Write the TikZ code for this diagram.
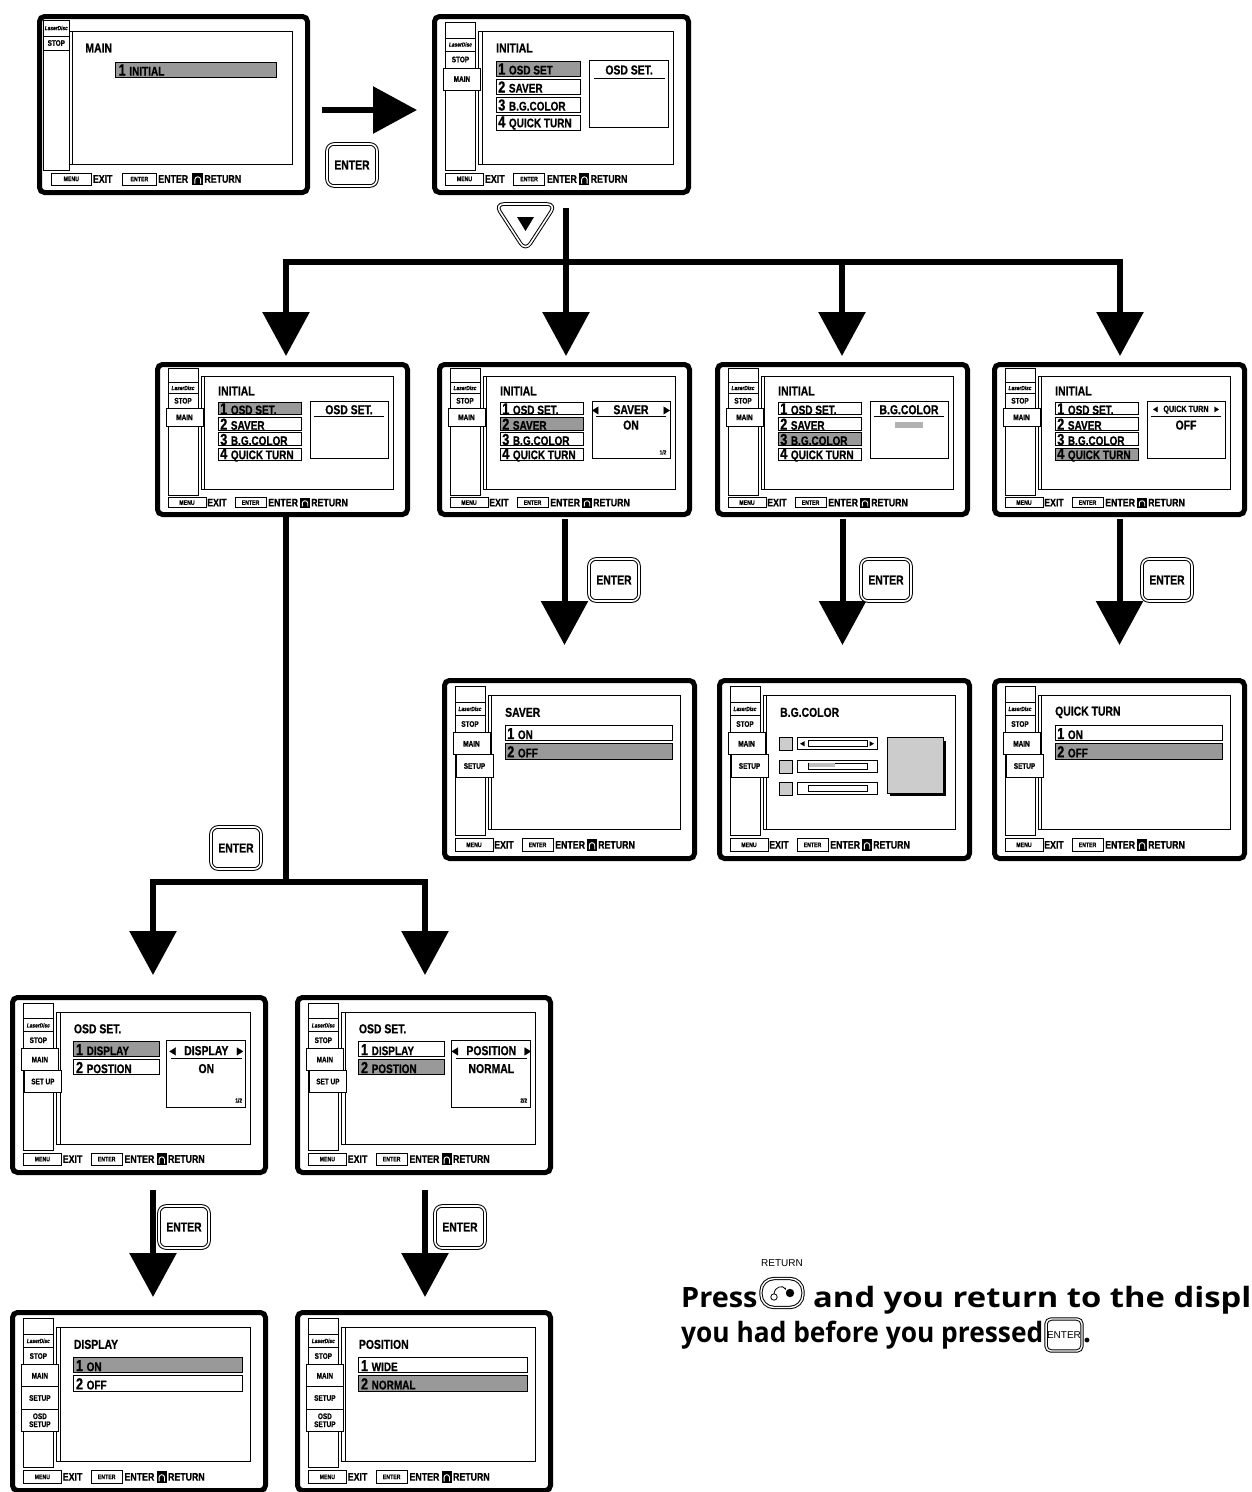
\documentclass[tikz,border=0pt]{standalone}
\usepackage{fontspec}
\setmainfont{Liberation Sans}
\newfontfamily\cond[FakeStretch=0.8,FakeBold=0.7,ItalicFont={Liberation Sans Bold Italic}]{Liberation Sans Bold}
\newfontfamily\bigfont{Open Sans}
\usetikzlibrary{arrows.meta,calc}
\newcommand\tf[1]{\cond\fontsize{#1}{#1}\selectfont}
\tikzset{
 frame/.style={draw,line width=5pt,rounded corners=5pt,fill=white,inner sep=0pt,anchor=north west},
 ln/.style={draw,line width=0.8pt},
 lab/.style={inner sep=0pt,anchor=west},
 flow/.style={line width=6pt},
 arr/.style={line width=6pt,-{Triangle[width=46pt,length=44pt]}},
 btn/.style={draw,line width=1pt,double=white,double distance=1.6pt,rounded corners=7pt,fill=white,minimum width=50pt,minimum height=42pt,font=\tf{13}},
 sbtn/.style={draw,line width=1pt,double=white,double distance=1.4pt,rounded corners=5pt,fill=white,minimum width=32pt,minimum height=32pt,inner sep=1pt,font=\fontsize{10}{10}\selectfont},
 hl/.style={fill=black!40},
 big/.style={anchor=base west,inner sep=0,font=\bigfont\bfseries\fontsize{28}{28}\selectfont}
}
\newcommand\scr[6]{%
 \node[frame,minimum width=#4pt,minimum height=#5pt] (#1) at (#2,#3) {};
 \begin{scope}[shift={(#2,#3)},xscale=#4/250,yscale=#5/176] #6 \end{scope}}
\newcommand\scpanel{\draw[ln,fill=white] (46,17) rectangle (238,150); \draw[ln] (49.5,17)--(49.5,150);}
\newcommand\sccol{\draw[ln,fill=white] (13,8) rectangle (43,156); \draw[ln] (13,24)--(43,24) (13,37)--(43,37) (13,54)--(43,54);
 \node[font=\tf{6}\itshape] at (28,30.5){LaserDisc}; \node[font=\tf{8}] at (28,45.5) {STOP};}
\newcommand\sctab[3]{\draw[ln,fill=white] ({11+#2},{54+22*(#1-1)}) rectangle ++(37,22);
 \node[font=\tf{8},align=center] at ({29.5+#2},{65+22*(#1-1)}) {#3};}
\newcommand\scbar{%
 \draw[ln] (13,159) rectangle (51,171); \node[font=\tf{6.5}] at (32,165){MENU};
 \node[lab,font=\tf{11}] at (52,165){EXIT};
 \draw[ln] (80,159) rectangle (111,171); \node[font=\tf{6.5}] at (95.5,165){ENTER};
 \node[lab,font=\tf{11}] at (113,165){ENTER};
 \fill (145,159) rectangle (155,171);
 \draw[white,line width=.9pt] (147.3,169.5)--(147.3,165.5) arc (180:360:2.7) --(152.7,169.5);
 \node[lab,font=\tf{11}] at (156,165){RETURN};}
\newcommand\itm[5]{\draw[ln,#5] (63,{47+18*(#1-1)}) rectangle ++(#2,15);
 \node[lab] at (65,{55+18*(#1-1)}) {\tf{16}#3\ \tf{12.5}#4};}
\newcommand\sctitle[1]{\node[lab,font=\tf{13}] at (63,34){#1};}
\newcommand\rbox[1]{\draw[ln,fill=white] (155,46) rectangle (233,113); \draw[ln] (159,64)--(229,64);
 \node[font=\tf{13}] at (194,56){#1};}
\newcommand\initscr[4]{\scpanel\sccol\sctab{1}{0}{MAIN}\scbar\sctitle{INITIAL}
 \itm{1}{83}{1}{#1}{#2}\itm{2}{83}{2}{SAVER}{#3}\itm{3}{83}{3}{B.G.COLOR}{#4}}
\begin{document}
\begin{tikzpicture}[x=1pt,y=-1pt]
\useasboundingbox (0,0) rectangle (1251,1492);
\clip (0,0) rectangle (1251,1492);
% top row
\scr{s1}{37}{14}{268}{176}{%
 \draw[ln,fill=white] (30,17) rectangle (238,150); \draw[ln] (33,17)--(33,150);
 \draw[ln,fill=white] (6,6) rectangle (30,156); \draw[ln] (6,22)--(30,22) (6,36)--(30,36);
 \node[font=\tf{6}\itshape] at (18,14){LaserDisc}; \node[font=\tf{8}] at (18,29) {STOP};
 \scbar \node[lab,font=\tf{13}] at (45,34){MAIN};
 \draw[ln,hl] (73,48) rectangle ++(150,15); \node[lab] at (76,56) {\tf{16}1\ \tf{12.5}INITIAL};}
\scr{s2}{432}{14}{254}{176}{\initscr{OSD SET}{hl}{}{}\itm{4}{83}{4}{QUICK TURN}{}\rbox{OSD SET.}}
% row 2
\scr{s3}{155}{362}{250}{150}{\initscr{OSD SET.}{hl}{}{}\itm{4}{83}{4}{QUICK TURN}{}\rbox{OSD SET.}}
\scr{s4}{437}{362}{250}{150}{\initscr{OSD SET.}{}{hl}{}\itm{4}{83}{4}{QUICK TURN}{}\rbox{◄\quad SAVER\quad ►}
 \node[font=\tf{13}] at (194,74){ON}; \node[font=\tf{6}] at (226,106){1/2};}
\scr{s5}{715}{362}{250}{150}{\initscr{OSD SET.}{}{}{hl}\itm{4}{83}{4}{QUICK TURN}{}\rbox{B.G.COLOR}
 \fill[black!30] (180,70) rectangle (208,77);}
\scr{s6}{992}{362}{250}{150}{\initscr{OSD SET.}{}{}{}\itm{4}{83}{4}{QUICK TURN}{hl}\rbox{\tf{9}◄\enspace QUICK TURN\enspace ►}
 \node[font=\tf{13}] at (194,74){OFF};}
% row 3
\scr{s7}{442}{678}{250}{178}{\scpanel\sccol\sctab{1}{0}{MAIN}\sctab{2}{3}{SETUP}\scbar\sctitle{SAVER}
 \itm{1}{167}{1}{ON}{}\itm{2}{167}{2}{OFF}{hl}}
\scr{s8}{717}{678}{250}{178}{\scpanel\sccol\sctab{1}{0}{MAIN}\sctab{2}{3}{SETUP}\scbar\sctitle{B.G.COLOR}
 \foreach \yy in {59,81,103}{\draw[ln,fill=black!20] (62,\yy) rectangle ++(13,13);
  \draw[ln] (80,\yy) rectangle ++(80,12); \draw[ln] (91,\yy+3) rectangle ++(59,6);}
 \fill (83,65)--(87.5,62.5)--(87.5,67.5)--cycle; \fill (157,65)--(152.5,62.5)--(152.5,67.5)--cycle;
 \fill[black!25] (91.5,84.5) rectangle (118,87.5);
 \fill (173,62) rectangle (229,117); \draw[ln,fill=black!20] (170,59) rectangle (226,114);}
\scr{s9}{992}{678}{250}{178}{\scpanel\sccol\sctab{1}{0}{MAIN}\sctab{2}{3}{SETUP}\scbar\sctitle{QUICK TURN}
 \itm{1}{167}{1}{ON}{}\itm{2}{167}{2}{OFF}{hl}}
% row 4
\scr{s10}{10}{995}{253}{175}{\scpanel\sccol\sctab{1}{0}{MAIN}\sctab{2}{3}{SET UP}\scbar\sctitle{OSD SET.}
 \itm{1}{85}{1}{DISPLAY}{hl}\itm{2}{85}{2}{POSTION}{}\rbox{◄\enspace DISPLAY\enspace ►}
 \node[font=\tf{13}] at (194,74){ON}; \node[font=\tf{6}] at (226,106){1/2};}
\scr{s11}{295}{995}{253}{175}{\scpanel\sccol\sctab{1}{0}{MAIN}\sctab{2}{3}{SET UP}\scbar\sctitle{OSD SET.}
 \itm{1}{85}{1}{DISPLAY}{}\itm{2}{85}{2}{POSTION}{hl}\rbox{◄\enspace POSITION\enspace ►}
 \node[font=\tf{13}] at (194,74){NORMAL}; \node[font=\tf{6}] at (226,106){2/2};}
% row 5
\scr{s12}{10}{1310}{253}{178}{\scpanel\sccol\sctab{1}{0}{MAIN}\sctab{2}{0}{SETUP}\sctab{3}{0}{OSD\\SETUP}\scbar\sctitle{DISPLAY}
 \itm{1}{167}{1}{ON}{hl}\itm{2}{167}{2}{OFF}{}}
\scr{s13}{295}{1310}{253}{178}{\scpanel\sccol\sctab{1}{0}{MAIN}\sctab{2}{0}{SETUP}\sctab{3}{0}{OSD\\SETUP}\scbar\sctitle{POSITION}
 \itm{1}{167}{1}{WIDE}{}\itm{2}{167}{2}{NORMAL}{hl}}
% connectors
\coordinate (a1) at (322,110); \coordinate (a2) at (417,110);
\draw[arr] (a1) -- (a2);
\node[btn] (e0) at (352,165) {ENTER};
\coordinate (t0) at (566,208); \coordinate (t1) at (566,262);
\coordinate (b0) at (283,262); \coordinate (b1) at (1123,262);
\draw[flow] (t0) -- (t1); \draw[flow] (b0) -- (b1);
\foreach \x/\n in {286/s3,566/s4,842/s5,1120/s6}{
 \coordinate (d\n) at (\x,259);
 \draw[arr,shorten >=6pt] (d\n) -- (d\n |- \n.north);}
% down button
\draw[line width=1pt,double=white,double distance=1.6pt,fill=white,rounded corners=9pt]
 (495,204) -- (556,204) -- (525.5,251) -- cycle;
\fill (517,217) -- (534,217) -- (525.5,231) -- cycle;
\node[inner sep=0] (db) at (525,222) {};
% row2 -> row3
\foreach \a/\b/\e in {s4/s7/614,s5/s8/886,s6/s9/1167}{
 \draw[arr,shorten <=2pt,shorten >=33pt] (\a.south) -- (\a.south |- \b.north);
 \node[btn] at (\e,580) {ENTER};}
% s3 -> row4
\coordinate (c0) at (286,512); \coordinate (c1) at (286,882);
\coordinate (c2) at (150,882); \coordinate (c3) at (428,882);
\draw[flow] (c0) -- (c1); \draw[flow] (c2) -- (c3);
\node[btn] (e4) at (236,848) {ENTER};
\coordinate (f1) at (153,879); \coordinate (f2) at (425,879);
\draw[arr,shorten >=20pt] (f1) -- (f1 |- s10.north);
\draw[arr,shorten >=20pt] (f2) -- (f2 |- s11.north);
% row4 -> row5
\coordinate (g1) at (153,1190); \coordinate (g2) at (425,1190);
\draw[arr,shorten >=13pt] (g1) -- (g1 |- s12.north);
\draw[arr,shorten >=13pt] (g2) -- (g2 |- s13.north);
\node[btn] at (184,1227) {ENTER};
\node[btn] at (460,1227) {ENTER};
% text
\node[big] (p1) at (681,1307) {\scalebox{1.03}[1]{Press}};
\node[draw,line width=1pt,double=white,double distance=1.4pt,rounded corners=13pt,minimum width=42pt,minimum height=29pt] (rb) at (782,1293) {};
\draw[line width=.8pt] (774,1297) circle (3.2);
\fill (790,1293) circle (4.2);
\draw[line width=.8pt,->,>={Stealth[length=2.5pt]}] (774,1293.8) .. controls (775,1286) and (783,1285) .. (786,1290);
\node[font=\fontsize{10}{10}\selectfont] (rl) at (782,1263) {RETURN};
\node[big] (p2) at (813,1307) {\scalebox{1.17}[1]{and you return to the display}};
\node[big] (p3) at (681,1342) {\scalebox{0.94}[1]{you had before you pressed}};
\node[sbtn] (se) at (1064,1335) {ENTER};
\node[big] at (1083,1342) {.};
\end{tikzpicture}
\end{document}
